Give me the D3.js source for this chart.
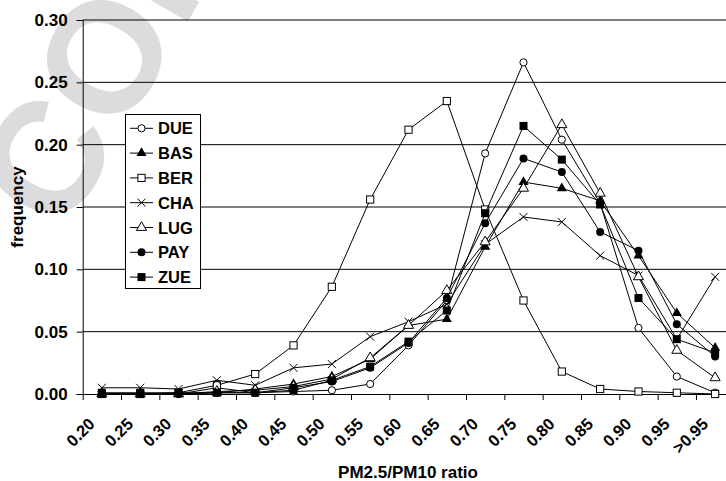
<!DOCTYPE html>
<html>
<head>
<meta charset="utf-8">
<script src="https://cdn.jsdelivr.net/npm/d3@7"></script>
<style>
  html, body { margin: 0; padding: 0; background: #fff; }
  svg { display: block; }
  text { font-family: "Liberation Sans", Arial, Helvetica, sans-serif; font-weight: bold; fill: #000; }
</style>
</head>
<body>
<svg id="chart" width="726" height="481"></svg>
<script>
// ---- data ----
const categories = ["0.20","0.25","0.30","0.35","0.40","0.45","0.50","0.55","0.60","0.65","0.70","0.75","0.80","0.85","0.90","0.95",">0.95"];
const seriesNames = ["DUE","BAS","BER","CHA","LUG","PAY","ZUE"];
const DUE = [0.000,0.000,0.000,0.005,0.001,0.002,0.003,0.008,0.039,0.075,0.193,0.266,0.204,0.153,0.053,0.014,0.001];
const BAS = [0.000,0.000,0.000,0.001,0.004,0.008,0.014,0.028,0.055,0.060,0.118,0.170,0.165,0.155,0.111,0.065,0.037];
const BER = [0.000,0.000,0.001,0.007,0.016,0.039,0.086,0.156,0.212,0.235,0.148,0.075,0.018,0.004,0.002,0.001,0.000];
const CHA = [0.005,0.005,0.004,0.011,0.007,0.021,0.024,0.046,0.058,0.072,0.120,0.142,0.138,0.111,0.095,0.044,0.094];
const LUG = [0.000,0.000,0.000,0.002,0.003,0.006,0.012,0.029,0.055,0.083,0.122,0.165,0.216,0.161,0.094,0.035,0.013];
const PAY = [0.000,0.000,0.000,0.001,0.001,0.005,0.010,0.021,0.041,0.077,0.137,0.189,0.178,0.130,0.115,0.056,0.030];
const ZUE = [0.001,0.001,0.001,0.001,0.001,0.003,0.011,0.022,0.042,0.067,0.145,0.215,0.188,0.152,0.077,0.044,0.033];
const seriesValues = [DUE, BAS, BER, CHA, LUG, PAY, ZUE];
const markerTypes = ["circleOpen","triangleFilled","squareOpen","cross","triangleOpen","circleFilled","squareFilled"];
const yTicks = [0.00,0.05,0.10,0.15,0.20,0.25,0.30];
const xTitle = "PM2.5/PM10 ratio";
const yTitle = "frequency";
const watermark = "CORRECTED PROOF";

// ---- layout ----
const svg = d3.select("#chart");
const mLeft = 82.7, mRight = 734.3, mTop = 20, mBottom = 394;

const x = d3.scaleBand().domain(categories).range([mLeft, mRight]).padding(0);
const xi = d3.scaleLinear().domain([0, categories.length]).range([mLeft, mRight]);
const y = d3.scaleLinear().domain([0, 0.30]).range([mBottom, mTop]);

// watermark (clipped to the picture)
svg.append("defs").append("clipPath").attr("id", "pageClip")
  .append("rect").attr("x", 0).attr("y", 0).attr("width", 726).attr("height", 481);
svg.append("g").attr("clip-path", "url(#pageClip)")
  .append("text")
  .attr("transform", "translate(64,236) rotate(-60)")
  .style("font-size", "158px")
  .style("fill", "#dcdcdc")
  .text(watermark);

// gridlines
svg.append("g").selectAll("line").data(yTicks.filter(d => d > 0)).join("line")
  .attr("x1", mLeft).attr("x2", mRight)
  .attr("y1", d => y(d)).attr("y2", d => y(d))
  .attr("stroke", "#000").attr("stroke-width", 1);

// y axis
const yAxis = svg.append("g").attr("transform", `translate(${mLeft},0)`)
  .call(d3.axisLeft(y).tickValues(yTicks).tickFormat(d3.format(".2f")).tickSize(6).tickPadding(9));
yAxis.attr("font-family", null).attr("font-size", null);
yAxis.select(".domain").attr("stroke", "#000");
yAxis.selectAll(".tick line").attr("stroke", "#000");
yAxis.selectAll(".tick text").style("font-size", "17px");

// x axis (ticks at category boundaries)
const xAxis = svg.append("g").attr("transform", `translate(0,${mBottom})`)
  .call(d3.axisBottom(xi).tickValues(d3.range(0, categories.length + 1)).tickFormat("").tickSize(6).tickSizeOuter(0));
xAxis.select(".domain").attr("stroke", "#000");
xAxis.selectAll(".tick line").attr("stroke", "#000");

svg.append("g").selectAll("text").data(categories).join("text")
  .attr("transform", d => `translate(${x(d) + x.bandwidth() / 2 - 6},425) rotate(-45)`)
  .attr("text-anchor", "end")
  .style("font-size", "16.5px")
  .text(d => d);

// titles
svg.append("text").attr("x", 408).attr("y", 478).attr("text-anchor", "middle")
  .style("font-size", "17px").text(xTitle);
svg.append("text").attr("transform", "translate(23,207) rotate(-90)").attr("text-anchor", "middle")
  .style("font-size", "17px").text(yTitle);

// markers
function drawMarker(g, type, cx, cy) {
  if (type === "circleOpen") {
    g.append("circle").attr("cx", cx).attr("cy", cy).attr("r", 3.6).attr("fill", "#fff").attr("stroke", "#000").attr("stroke-width", 1);
  } else if (type === "circleFilled") {
    g.append("circle").attr("cx", cx).attr("cy", cy).attr("r", 4).attr("fill", "#000");
  } else if (type === "squareOpen") {
    g.append("rect").attr("x", cx - 3.6).attr("y", cy - 3.6).attr("width", 7.2).attr("height", 7.2).attr("fill", "#fff").attr("stroke", "#000").attr("stroke-width", 1);
  } else if (type === "squareFilled") {
    g.append("rect").attr("x", cx - 4).attr("y", cy - 4).attr("width", 8).attr("height", 8).attr("fill", "#000");
  } else if (type === "triangleFilled") {
    g.append("path").attr("d", d3.symbol(d3.symbolTriangle, 44)()).attr("transform", `translate(${cx},${cy})`).attr("fill", "#000");
  } else if (type === "triangleOpen") {
    g.append("path").attr("d", d3.symbol(d3.symbolTriangle, 44)()).attr("transform", `translate(${cx},${cy})`).attr("fill", "#fff").attr("stroke", "#000").attr("stroke-width", 1);
  } else if (type === "cross") {
    g.append("path").attr("d", `M${cx-4},${cy-4}L${cx+4},${cy+4}M${cx-4},${cy+4}L${cx+4},${cy-4}`).attr("stroke", "#000").attr("stroke-width", 1).attr("fill", "none");
  }
}

const line = d3.line().x((d, i) => x(categories[i]) + x.bandwidth() / 2).y(d => y(d));
const plot = svg.append("g");
seriesValues.forEach((vals, si) => {
  const g = plot.append("g");
  g.append("path").attr("d", line(vals)).attr("fill", "none").attr("stroke", "#000").attr("stroke-width", 1);
  vals.forEach((v, i) => drawMarker(g, markerTypes[si], x(categories[i]) + x.bandwidth() / 2, y(v)));
});

// legend
const lg = svg.append("g");
lg.append("rect").attr("x", 125.5).attr("y", 114.5).attr("width", 75).attr("height", 174)
  .attr("fill", "#fff").attr("stroke", "#000").attr("stroke-width", 1);
seriesNames.forEach((name, i) => {
  const cy = 128.3 + i * 24.8;
  lg.append("line").attr("x1", 130).attr("x2", 153).attr("y1", cy).attr("y2", cy).attr("stroke", "#000");
  drawMarker(lg, markerTypes[i], 141.5, cy);
  lg.append("text").attr("x", 158).attr("y", cy + 6).style("font-size", "16.5px").text(name);
});
</script>
</body>
</html>
